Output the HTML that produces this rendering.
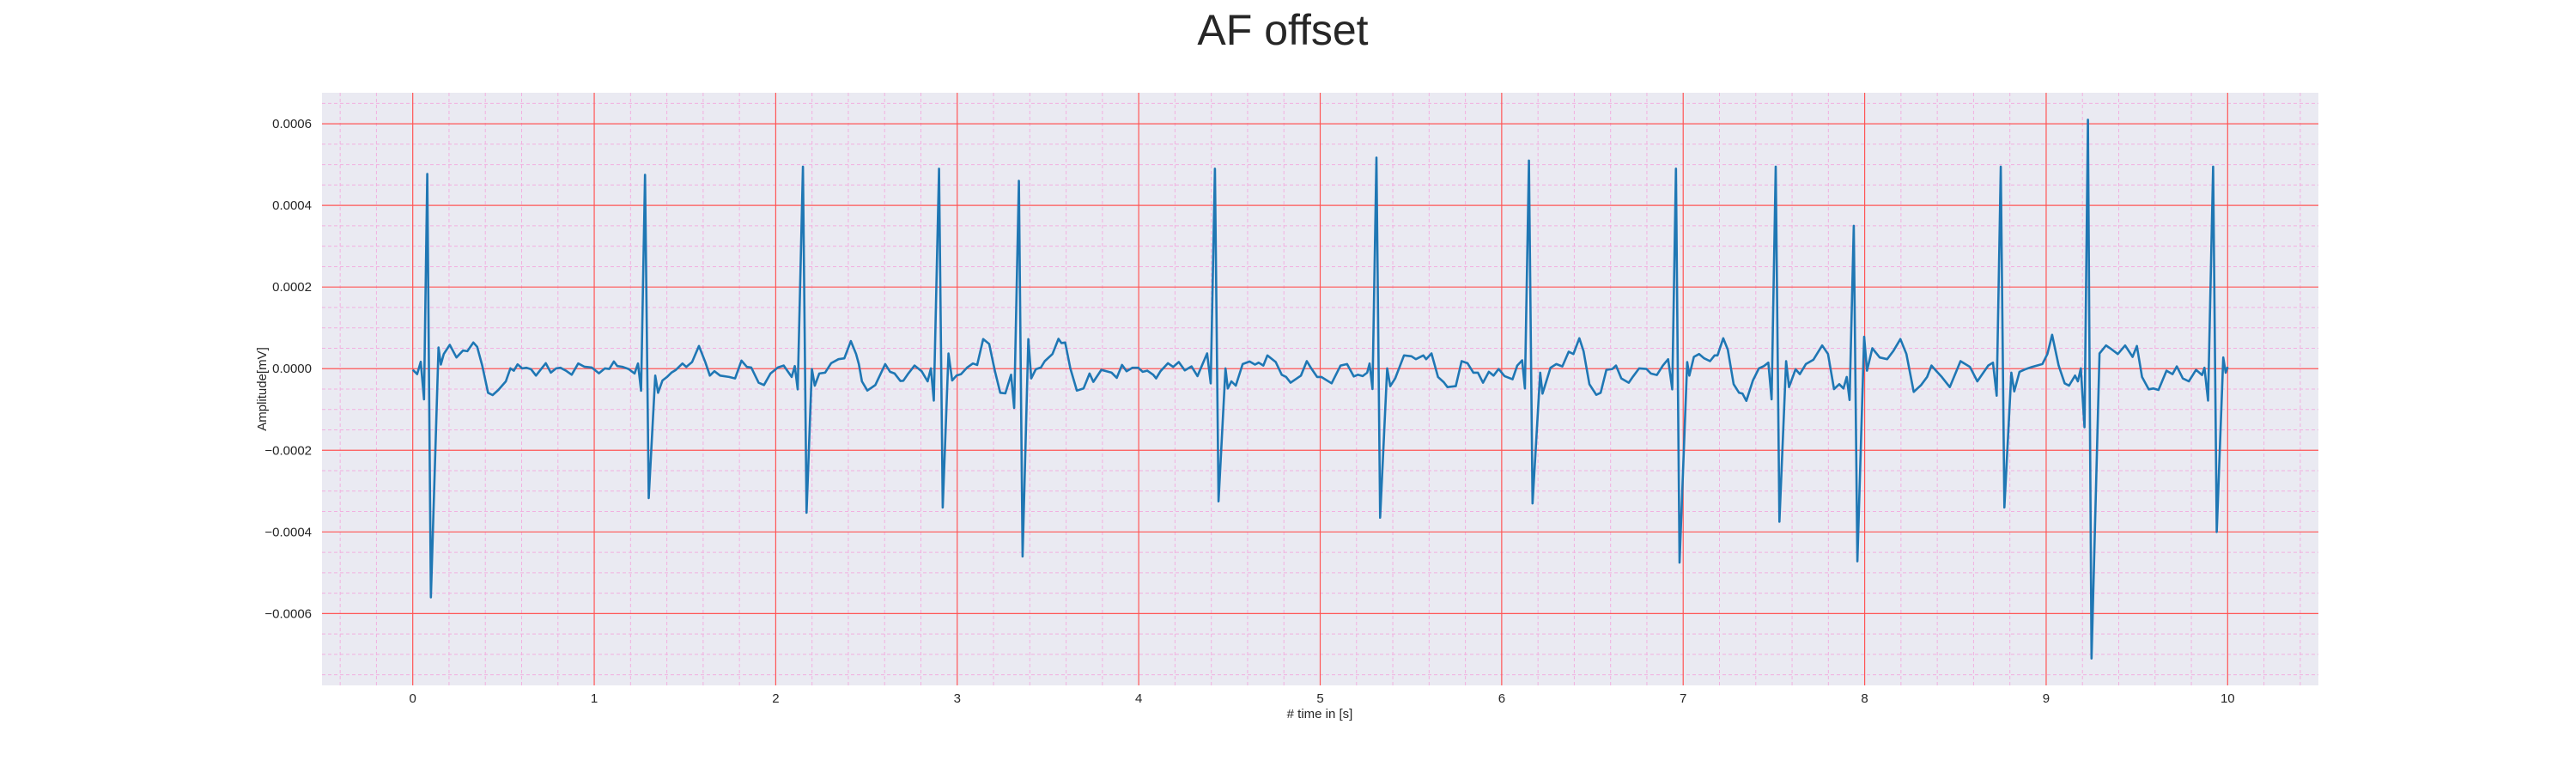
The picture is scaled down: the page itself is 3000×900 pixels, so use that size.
<!DOCTYPE html>
<html><head><meta charset="utf-8"><style>
html,body{margin:0;padding:0;background:#fff;}
svg{display:block;font-family:"Liberation Sans",sans-serif;}
</style></head><body>
<svg id="chart" width="3000" height="900" viewBox="0 0 3000 900" xmlns="http://www.w3.org/2000/svg">
<text x="1494" y="52" font-size="50" text-anchor="middle" fill="#262626">AF offset</text>
<rect x="375" y="108" width="2325" height="690" fill="#eaeaf2"/>
<g id="grid"></g>
<g id="ticks"></g>
<path id="trace" fill="none" stroke="#1f77b4" stroke-width="2.6" stroke-linejoin="round"/>
<text x="1537" y="836" font-size="15" text-anchor="middle" fill="#262626"># time in [s]</text>
<text x="0" y="0" font-size="15" text-anchor="middle" fill="#262626" transform="translate(310,453) rotate(-90)">Amplitude[mV]</text>
</svg>
<script>
const xTicks = [0,1,2,3,4,5,6,7,8,9,10];
const yTicks = [0.0006,0.0004,0.0002,0,-0.0002,-0.0004,-0.0006];
const yTickLabels = ["0.0006","0.0004","0.0002","0.0000","\u22120.0002","\u22120.0004","\u22120.0006"];
const times = [0,0.024,0.044,0.062,0.08,0.10,0.142,0.155,0.171,0.204,0.241,0.277,0.301,0.334,0.355,0.383,0.415,0.44,0.472,0.513,0.538,0.557,0.578,0.603,0.627,0.652,0.679,0.704,0.733,0.761,0.79,0.814,0.844,0.876,0.912,0.945,0.986,1.026,1.059,1.083,1.108,1.127,1.157,1.189,1.222,1.241,1.258,1.28,1.30,1.336,1.352,1.376,1.401,1.425,1.45,1.486,1.507,1.539,1.577,1.613,1.637,1.662,1.694,1.743,1.776,1.811,1.841,1.865,1.906,1.935,1.971,2.012,2.044,2.077,2.088,2.105,2.121,2.15,2.17,2.199,2.215,2.24,2.272,2.305,2.346,2.378,2.414,2.443,2.458,2.475,2.505,2.549,2.603,2.63,2.655,2.687,2.703,2.728,2.765,2.804,2.837,2.855,2.871,2.90,2.92,2.952,2.972,2.996,3.021,3.053,3.086,3.11,3.143,3.176,3.208,3.237,3.265,3.297,3.314,3.34,3.36,3.392,3.408,3.433,3.461,3.482,3.525,3.558,3.574,3.595,3.623,3.659,3.696,3.729,3.75,3.794,3.851,3.879,3.908,3.933,3.965,3.998,4.022,4.047,4.08,4.096,4.12,4.161,4.19,4.221,4.254,4.291,4.324,4.352,4.377,4.397,4.42,4.44,4.478,4.491,4.511,4.535,4.573,4.611,4.641,4.661,4.687,4.709,4.755,4.788,4.812,4.837,4.894,4.926,4.951,4.983,5.006,5.063,5.112,5.148,5.185,5.207,5.234,5.259,5.272,5.288,5.31,5.33,5.369,5.386,5.413,5.462,5.503,5.527,5.568,5.584,5.613,5.649,5.681,5.701,5.747,5.779,5.812,5.844,5.869,5.897,5.929,5.955,5.983,6.016,6.06,6.086,6.113,6.128,6.15,6.17,6.212,6.225,6.269,6.301,6.334,6.369,6.395,6.428,6.451,6.483,6.521,6.545,6.577,6.61,6.63,6.659,6.7,6.724,6.757,6.798,6.822,6.855,6.888,6.917,6.94,6.96,6.98,7.022,7.034,7.059,7.088,7.116,7.148,7.173,7.189,7.221,7.246,7.278,7.308,7.327,7.348,7.384,7.417,7.445,7.469,7.487,7.51,7.53,7.567,7.583,7.619,7.643,7.676,7.717,7.766,7.798,7.831,7.86,7.883,7.901,7.917,7.94,7.96,7.997,8.013,8.042,8.083,8.124,8.157,8.197,8.23,8.27,8.311,8.344,8.368,8.393,8.425,8.469,8.528,8.58,8.621,8.681,8.707,8.727,8.75,8.77,8.808,8.824,8.853,8.889,8.922,8.979,9.007,9.033,9.069,9.102,9.126,9.159,9.175,9.191,9.211,9.23,9.25,9.294,9.33,9.363,9.395,9.435,9.476,9.5,9.528,9.565,9.59,9.619,9.663,9.696,9.72,9.753,9.786,9.826,9.859,9.872,9.892,9.92,9.94,9.976,9.989,10.0];
const amplitudes = [-0.28e-5,-1.34e-5,1.69e-5,-7.53e-5,4.77e-4,-5.6e-4,5.21e-5,0.99e-5,3.59e-5,5.84e-5,2.75e-5,4.44e-5,4.29e-5,6.41e-5,5.35e-5,0.77e-5,-5.91e-5,-6.48e-5,-5.21e-5,-3.1e-5,0.07e-5,-0.49e-5,1.06e-5,0.07e-5,0.21e-5,-0.14e-5,-1.69e-5,-0.28e-5,1.34e-5,-0.99e-5,0.07e-5,0.21e-5,-0.49e-5,-1.48e-5,1.27e-5,0.49e-5,0.28e-5,-1.13e-5,0.07e-5,-0.07e-5,1.76e-5,0.63e-5,0.42e-5,-0.07e-5,-1.2e-5,1.27e-5,-5.42e-5,4.75e-4,-3.17e-4,-1.69e-5,-5.91e-5,-2.89e-5,-2.04e-5,-0.99e-5,-0.28e-5,1.27e-5,0.42e-5,1.62e-5,5.56e-5,1.48e-5,-1.69e-5,-0.63e-5,-1.69e-5,-2.04e-5,-2.39e-5,1.97e-5,0.42e-5,0.28e-5,-3.45e-5,-4.01e-5,-1.2e-5,0.28e-5,0.77e-5,-1.34e-5,-2.04e-5,0.63e-5,-5.07e-5,4.95e-4,-3.53e-4,-0.07e-5,-4.15e-5,-1.2e-5,-0.99e-5,1.34e-5,2.32e-5,2.53e-5,6.76e-5,3.59e-5,1.13e-5,-3.1e-5,-5.35e-5,-4.01e-5,1.13e-5,-0.77e-5,-1.2e-5,-3.03e-5,-2.96e-5,-1.34e-5,0.77e-5,-0.63e-5,-3.1e-5,0.07e-5,-7.81e-5,4.9e-4,-3.4e-4,3.73e-5,-2.89e-5,-1.69e-5,-1.34e-5,0.21e-5,1.27e-5,0.92e-5,7.25e-5,6.05e-5,-0.63e-5,-5.91e-5,-6.05e-5,-1.48e-5,-9.64e-5,4.6e-4,-4.6e-4,7.25e-5,-2.39e-5,-0.14e-5,0.28e-5,1.83e-5,3.59e-5,7.32e-5,6.27e-5,6.41e-5,0.07e-5,-5.35e-5,-4.86e-5,-1.2e-5,-3.24e-5,-0.28e-5,-0.99e-5,-2.25e-5,0.92e-5,-0.63e-5,0.21e-5,0.21e-5,-0.77e-5,-0.49e-5,-1.48e-5,-2.39e-5,-0.63e-5,1.34e-5,0.42e-5,1.62e-5,-0.42e-5,0.56e-5,-1.83e-5,1.13e-5,3.73e-5,-3.59e-5,4.9e-4,-3.25e-4,0.07e-5,-4.86e-5,-3.1e-5,-4.15e-5,1.13e-5,1.76e-5,0.99e-5,1.48e-5,0.77e-5,3.24e-5,1.62e-5,-1.48e-5,-2.04e-5,-3.45e-5,-1.69e-5,1.83e-5,0.07e-5,-2.04e-5,-2.04e-5,-3.59e-5,0.77e-5,1.13e-5,-1.9e-5,-1.48e-5,-1.83e-5,-0.99e-5,1.27e-5,-5.0e-5,5.17e-4,-3.65e-4,0.07e-5,-4.29e-5,-2.39e-5,3.24e-5,3.03e-5,2.32e-5,3.24e-5,2.32e-5,3.73e-5,-2.04e-5,-3.31e-5,-4.51e-5,-4.29e-5,1.83e-5,1.34e-5,-0.99e-5,-0.99e-5,-3.45e-5,-0.77e-5,-1.69e-5,-0.07e-5,-1.83e-5,-2.6e-5,0.77e-5,2.04e-5,-4.86e-5,5.1e-4,-3.3e-4,-0.99e-5,-6.12e-5,0.21e-5,1.13e-5,0.56e-5,4.15e-5,3.59e-5,7.46e-5,4.29e-5,-3.8e-5,-6.41e-5,-5.91e-5,-0.28e-5,-0.07e-5,0.77e-5,-2.39e-5,-3.45e-5,-1.9e-5,0.07e-5,-0.07e-5,-1.2e-5,-1.55e-5,0.77e-5,2.32e-5,-5.07e-5,4.9e-4,-4.75e-4,1.62e-5,-1.69e-5,2.89e-5,3.59e-5,2.53e-5,1.83e-5,3.24e-5,3.24e-5,7.46e-5,4.65e-5,-3.8e-5,-5.91e-5,-6.12e-5,-7.88e-5,-2.89e-5,0.07e-5,0.63e-5,1.48e-5,-7.53e-5,4.95e-4,-3.75e-4,1.83e-5,-4.51e-5,-0.14e-5,-1.34e-5,1.13e-5,2.18e-5,5.7e-5,3.59e-5,-5.0e-5,-3.8e-5,-4.86e-5,-2.04e-5,-7.67e-5,3.5e-4,-4.72e-4,7.81e-5,-0.49e-5,5.0e-5,2.75e-5,2.32e-5,4.29e-5,7.25e-5,3.59e-5,-5.7e-5,-4.01e-5,-2.04e-5,0.77e-5,-0.49e-5,-2.04e-5,-4.51e-5,1.83e-5,0.42e-5,-3.1e-5,0.77e-5,1.48e-5,-6.62e-5,4.95e-4,-3.4e-4,-0.99e-5,-5.56e-5,-0.77e-5,-0.07e-5,0.42e-5,1.13e-5,3.59e-5,8.31e-5,0.77e-5,-3.59e-5,-4.15e-5,-1.69e-5,-3.1e-5,0.07e-5,-14.36e-5,6.1e-4,-7.1e-4,3.73e-5,5.7e-5,4.65e-5,3.59e-5,5.7e-5,2.89e-5,5.56e-5,-2.04e-5,-5.07e-5,-4.86e-5,-5.21e-5,-0.49e-5,-1.34e-5,0.56e-5,-2.39e-5,-3.1e-5,-0.28e-5,-1.55e-5,0.21e-5,-7.81e-5,4.95e-4,-4.0e-4,2.75e-5,-0.99e-5,0.42e-5];

const X0 = 375, X1 = 2700, Y0 = 108, Y1 = 798;
const xMin = -0.5, xMax = 10.5, yMin = -0.000776, yMax = 0.000676;
function xs(t){ return X0 + (t - xMin) / (xMax - xMin) * (X1 - X0); }
function ys(v){ return Y1 - (v - yMin) / (yMax - yMin) * (Y1 - Y0); }
const NS = "http://www.w3.org/2000/svg";
const grid = document.getElementById('grid');
const ticks = document.getElementById('ticks');
function line(parent, x1, y1, x2, y2, stroke, w, dash){
  const l = document.createElementNS(NS, 'line');
  l.setAttribute('x1', x1); l.setAttribute('y1', y1);
  l.setAttribute('x2', x2); l.setAttribute('y2', y2);
  l.setAttribute('stroke', stroke); l.setAttribute('stroke-width', w);
  if (dash) l.setAttribute('stroke-dasharray', dash);
  parent.appendChild(l);
  return l;
}
for (let k = -2; k <= 52; k++) {
  const t = k * 0.2;
  if (t < xMin || t > xMax || k % 5 === 0) continue;
  const l = line(grid, xs(t), Y0, xs(t), Y1, '#f2b0e0', 1, '4,3');
  
  
}
for (let k = -16; k <= 14; k++) {
  const v = k * 0.00005;
  if (v < yMin || v > yMax || k % 4 === 0) continue;
  const l = line(grid, X0, ys(v), X1, ys(v), '#f2b0e0', 1, '4,3');
  
  
}
xTicks.forEach(t => {
  const l = line(grid, xs(t), Y0, xs(t), Y1, '#f55', 1.2);
  
  
  const tx = document.createElementNS(NS, 'text');
  tx.setAttribute('x', xs(t)); tx.setAttribute('y', 818);
  tx.setAttribute('font-size', '15'); tx.setAttribute('text-anchor', 'middle'); tx.setAttribute('fill', '#262626');
  tx.textContent = String(t);
  
  
  ticks.appendChild(tx);
});
yTicks.forEach((v, i) => {
  const l = line(grid, X0, ys(v), X1, ys(v), '#f55', 1.2);
  
  
  const tx = document.createElementNS(NS, 'text');
  tx.setAttribute('x', 363); tx.setAttribute('y', ys(v) + 5);
  tx.setAttribute('font-size', '15'); tx.setAttribute('text-anchor', 'end'); tx.setAttribute('fill', '#262626');
  tx.textContent = yTickLabels[i];
  
  
  ticks.appendChild(tx);
});
let d = '';
times.forEach((t, i) => { d += (i ? 'L' : 'M') + xs(t).toFixed(1) + ',' + ys(amplitudes[i]).toFixed(1); });
document.getElementById('trace').setAttribute('d', d);
</script>
</body></html>
